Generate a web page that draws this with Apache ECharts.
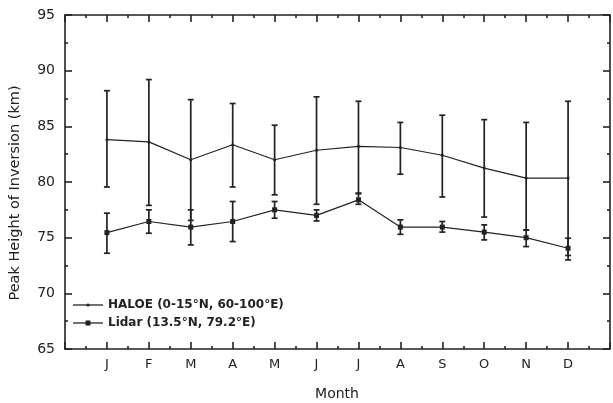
<!DOCTYPE html>
<html>
<head>
<meta charset="utf-8">
<script src="https://cdn.jsdelivr.net/npm/echarts@6/dist/echarts.min.js"></script>
<style>
  html, body { margin: 0; padding: 0; background: #fff; }
  #main { width: 613px; height: 403px; }
</style>
</head>
<body>
<div id="main"></div>
<script>
// values
var months = ['J', 'F', 'M', 'A', 'M', 'J', 'J', 'A', 'S', 'O', 'N', 'D'];
var monthPos = [1, 2, 3, 4, 5, 6, 7, 8, 9, 10, 11, 12];

var haloeMean = [83.8, 83.6, 82.0, 83.35, 82.0, 82.85, 83.2, 83.1, 82.4, 81.25, 80.35, 80.35];
var haloeHigh = [88.2, 89.2, 87.4, 87.05, 85.1, 87.65, 87.25, 85.35, 86.0, 85.6, 85.35, 87.25];
var haloeLow  = [79.55, 77.9, 76.55, 79.55, 78.85, 78.0, 79.0, 80.7, 78.65, 76.85, 75.7, 73.4];

var lidarMean = [75.45, 76.45, 75.95, 76.45, 77.5, 77.0, 78.4, 75.95, 75.95, 75.5, 75.0, 74.05];
var lidarHigh = [77.2, 77.5, 77.5, 78.25, 78.25, 77.5, 78.95, 76.6, 76.45, 76.15, 75.7, 74.95];
var lidarLow  = [73.6, 75.4, 74.35, 74.65, 76.75, 76.5, 78.0, 75.3, 75.5, 74.8, 74.2, 73.0];

var yTicks = [65, 70, 75, 80, 85, 90, 95];

var INK = '#222';
var FONT = 'DejaVu Sans';

var pairs = function (xs, ys) {
	var out = [];
	for (var i = 0; i < xs.length; i++) out.push([xs[i], ys[i]]);
	return out;
};
var bars = function (xs, hi, lo) {
	var out = [];
	for (var i = 0; i < xs.length; i++) out.push([xs[i], hi[i], lo[i]]);
	return out;
};

var errorBar = function (params, api) {
	var x = api.value(0);
	var top = api.coord([x, api.value(1)]);
	var bot = api.coord([x, api.value(2)]);
	var w = 3;
	var st = { stroke: INK, lineWidth: 1.7 };
	return {
		type: 'group',
		children: [
			{ type: 'line', shape: { x1: top[0], y1: top[1], x2: bot[0], y2: bot[1] }, style: st },
			{ type: 'line', shape: { x1: top[0] - w, y1: top[1], x2: top[0] + w, y2: top[1] }, style: st },
			{ type: 'line', shape: { x1: bot[0] - w, y1: bot[1], x2: bot[0] + w, y2: bot[1] }, style: st }
		]
	};
};

var xAxisBase = function (pos, showLabel) {
	return {
		type: 'value', position: pos, min: 0, max: 13, interval: 1,
		axisLine: { show: true, onZero: false, lineStyle: { color: INK, width: 1.6 } },
		axisTick: { show: true, inside: true, length: 7, lineStyle: { color: INK, width: 1.6 } },
		minorTick: { show: true, splitNumber: 2, length: 3, lineStyle: { color: INK, width: 1.6 } },
		splitLine: { show: false },
		axisLabel: {
			show: showLabel, margin: 9, color: INK, fontFamily: FONT, fontSize: 13,
			formatter: function (v) { return months[v - 1] || ''; }
		}
	};
};
var yAxisBase = function (pos, showLabel) {
	return {
		type: 'value', position: pos, min: yTicks[0], max: yTicks[yTicks.length - 1], interval: 5,
		axisLine: { show: true, onZero: false, lineStyle: { color: INK, width: 1.6 } },
		axisTick: { show: true, inside: true, length: 7, lineStyle: { color: INK, width: 1.6 } },
		minorTick: { show: true, splitNumber: 2, length: 3, lineStyle: { color: INK, width: 1.6 } },
		splitLine: { show: false },
		axisLabel: { show: showLabel, margin: 10, color: INK, fontFamily: FONT, fontSize: 14 }
	};
};

var chart = echarts.init(document.getElementById('main'));
chart.setOption({
	animation: false,
	backgroundColor: '#fff',
	grid: { left: 65, right: 2, top: 15, bottom: 54 },
	xAxis: [xAxisBase('bottom', true), xAxisBase('top', false)],
	yAxis: [yAxisBase('left', true), yAxisBase('right', false)],
	series: [
		{
			type: 'custom', name: 'haloeErr', renderItem: errorBar,
			data: bars(monthPos, haloeHigh, haloeLow), encode: { x: 0, y: [1, 2] }, z: 1
		},
		{
			type: 'custom', name: 'lidarErr', renderItem: errorBar,
			data: bars(monthPos, lidarHigh, lidarLow), encode: { x: 0, y: [1, 2] }, z: 1
		},
		{
			type: 'line', name: 'HALOE (0-15°N, 60-100°E)', data: pairs(monthPos, haloeMean),
			symbol: 'circle', symbolSize: 3, z: 3,
			lineStyle: { color: INK, width: 1.2 }, itemStyle: { color: INK }
		},
		{
			type: 'line', name: 'Lidar (13.5°N, 79.2°E)', data: pairs(monthPos, lidarMean),
			symbol: 'rect', symbolSize: 5, z: 3,
			lineStyle: { color: INK, width: 1.2 }, itemStyle: { color: INK }
		}
	],
	graphic: [
		{
			type: 'text', x: 15, y: 193, rotation: Math.PI / 2,
			style: { text: 'Peak Height of Inversion (km)', fill: INK, font: '14.5px "DejaVu Sans"', align: 'center', verticalAlign: 'middle' }
		},
		{
			type: 'text', x: 337, y: 394,
			style: { text: 'Month', fill: INK, font: '14px "DejaVu Sans"', align: 'center', verticalAlign: 'middle' }
		},
		// legend
		{ type: 'line', shape: { x1: 73, y1: 305, x2: 103, y2: 305 }, style: { stroke: INK, lineWidth: 1.3 } },
		{ type: 'circle', shape: { cx: 88, cy: 305, r: 1.6 }, style: { fill: INK } },
		{
			type: 'text', x: 108, y: 305,
			style: { text: 'HALOE (0-15°N, 60-100°E)', fill: INK, font: 'bold 12px "DejaVu Sans"', verticalAlign: 'middle' }
		},
		{ type: 'line', shape: { x1: 73, y1: 323, x2: 103, y2: 323 }, style: { stroke: INK, lineWidth: 1.3 } },
		{ type: 'rect', shape: { x: 85.5, y: 320.5, width: 5, height: 5 }, style: { fill: INK } },
		{
			type: 'text', x: 108, y: 323,
			style: { text: 'Lidar (13.5°N, 79.2°E)', fill: INK, font: 'bold 12px "DejaVu Sans"', verticalAlign: 'middle' }
		}
	]
});
</script>
</body>
</html>
